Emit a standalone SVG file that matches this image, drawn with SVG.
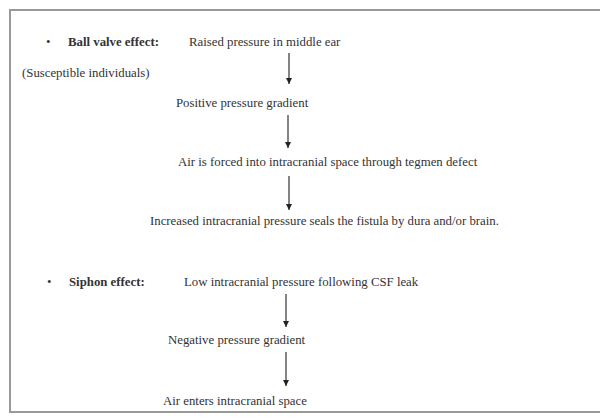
<svg xmlns="http://www.w3.org/2000/svg" width="600" height="419" viewBox="0 0 600 419">
<defs>
<marker id="arr" viewBox="0 0 8 8" markerWidth="6" markerHeight="6" refX="8" refY="4" orient="auto" markerUnits="userSpaceOnUse">
<path d="M0,0 L8,4 L0,8 Z" fill="#222"/>
</marker>
<style>
text{font-family:"Liberation Serif","Times New Roman",serif;font-size:12.8px;fill:#333}
.b{font-weight:bold}
.c{stroke:#333;stroke-width:1.2;fill:none;marker-end:url(#arr)}
.frame{stroke:#999;stroke-width:2;fill:none}
</style>
</defs>
<rect width="600" height="419" fill="#fff"/>
<path class="frame" d="M600,10 L10,10 L10,412 L600,412"/>
<g id="n1"><text x="46" y="46">•</text><text x="68" y="46" class="b">Ball valve effect:</text></g>
<g id="n2"><text x="189" y="46">Raised pressure in middle ear</text></g>
<g id="n3"><text x="22" y="77">(Susceptible individuals)</text></g>
<g id="n4"><text x="176" y="107">Positive pressure gradient</text></g>
<g id="n5"><text x="178" y="166">Air is forced into intracranial space through tegmen defect</text></g>
<g id="n6"><text x="150" y="225">Increased intracranial pressure seals the fistula by dura and/or brain.</text></g>
<g id="n7"><text x="47" y="286">•</text><text x="69" y="286" class="b">Siphon effect:</text></g>
<g id="n8"><text x="184" y="286">Low intracranial pressure following CSF leak</text></g>
<g id="n9"><text x="168" y="344">Negative pressure gradient</text></g>
<g id="n10"><text x="163" y="405">Air enters intracranial space</text></g>
<g id="connectors">
<line class="c" x1="289" y1="53" x2="289" y2="84"/>
<line class="c" x1="288" y1="115" x2="288" y2="148"/>
<line class="c" x1="289" y1="176" x2="289" y2="210"/>
<line class="c" x1="286" y1="294" x2="286" y2="327"/>
<line class="c" x1="286" y1="352" x2="286" y2="386"/>
</g>
</svg>
